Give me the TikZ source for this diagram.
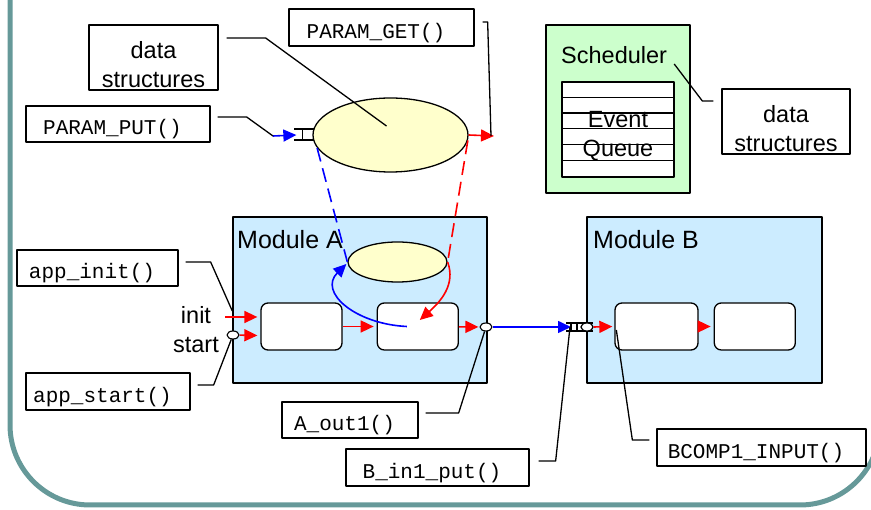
\documentclass[tikz,border=0pt]{standalone}
\usepackage{fontspec}
\setmainfont{Liberation Sans}
\setmonofont{Liberation Mono}
\usetikzlibrary{arrows.meta,positioning,calc,shapes.geometric}
\definecolor{modblue}{HTML}{CCECFF}
\definecolor{blobyellow}{HTML}{FFFFCC}
\definecolor{schedgreen}{HTML}{CCFFCC}
\definecolor{frameteal}{HTML}{669999}

\begin{document}
\begin{tikzpicture}[x=1pt, y=-1pt, line join=round,
  >={Triangle[length=13pt,width=12pt]},
  sans/.style={font=\fontsize{23.5}{29}\selectfont},
  callbox/.style={draw, line width=1.3pt, fill=white, inner sep=0pt, font=\ttfamily\fontsize{21}{24}\selectfont, text height=22pt, text depth=0pt, execute at end node=\hspace*{11pt}},
  notebox/.style={draw, line width=1.3pt, fill=white, inner sep=0pt, align=center, sans},
  modbox/.style={draw, line width=1.4pt, fill=modblue, inner sep=0pt},
  compbox/.style={draw, line width=1.3pt, fill=white, rounded corners=7pt, minimum width=81pt, minimum height=47pt, inner sep=0pt},
  blob/.style={ellipse, draw, line width=1.3pt, fill=blobyellow, inner sep=0pt},
  port/.style={ellipse, draw, line width=1.1pt, fill=white, minimum width=12pt, minimum height=8pt, inner sep=0pt},
  leader/.style={draw, line width=1.3pt},
  flowred/.style={draw=red, line width=1.6pt, ->, red},
  flowblue/.style={draw=blue, line width=1.6pt, ->, blue},
  gapline/.style={dash pattern=on 14pt off 7pt}]
  \useasboundingbox (0,0) rectangle (871,510);
  \draw[frameteal, line width=5pt, rounded corners=80pt] (10,-20) -- (10,505) -- (880,505) -- (880,-20);

  \node[modbox, minimum width=254pt, minimum height=166pt] (modA) at (360,300) {};
  \node[modbox, minimum width=235pt, minimum height=166pt] (modB) at (704.5,300) {};
  \node[sans, anchor=base west, inner sep=0pt, font=\fontsize{25}{29}\selectfont] (modAlbl) at (237,249) {Module A};
  \node[sans, anchor=base west, inner sep=0pt, font=\fontsize{25}{29}\selectfont] (modBlbl) at (593,249) {Module B};

  \node[compbox] (a1) at (301.5,326.5) {};
  \node[compbox, right=34pt of a1] (a2) {};
  \node[compbox, minimum width=83pt] (b1) at (656.5,326.5) {};
  \node[compbox, right=15pt of b1] (b2) {};

  \node[draw, line width=1.4pt, fill=schedgreen, minimum width=144pt, minimum height=168pt] (sched) at (618,109) {};
  \node[sans, anchor=base west, inner sep=0pt] (schedlbl) at (561,64) {Scheduler};
  \node[draw, line width=1.3pt, fill=white, minimum width=112pt, minimum height=95pt, inner sep=0pt, align=center, sans] (queue) at (618,129.5) {\rule{0pt}{30pt}Event\\Queue};
  \foreach \k in {1,...,5}
    \draw[line width=1.3pt] ($(queue.north west)+(0,\k*15.83)$) -- ++(112,0);

  \node[blob, minimum width=155pt, minimum height=74pt] (bigell) at (390.5,135) {};
  \node[blob, minimum width=99pt, minimum height=40pt] (smallell) at (397.5,262) {};

  \node[port] (astart) at (233,335) {};
  \node[port] (aout) at (486,327) {};
  \node[port] (bin) at (587,327) {};
  \coordinate (ainit) at (225,317);
  \coordinate (putin) at (273,136);
  \coordinate (getout) at (494,136);

  \node[sans, align=center, inner sep=0pt] (initlbl) at (196,330) {init\\start};

  \draw[flowred] (ainit) -- ([shift={(-3,-9.5)}]a1.west);
  \draw[flowred] (astart) -- ([shift={(-3,9)}]a1.west);
  \draw[flowred, shorten >=3pt] (a1) -- (a2);
  \draw[flowred, shorten >=1pt] (a2) -- (aout);
  \draw[flowblue] (aout.east) -- ([xshift=-16pt]bin.center);
  \draw[line width=1.3pt] ([shift={(6,-4)}]bin.center) -- ++(-27,0) ([shift={(6,4)}]bin.center) -- ++(-27,0)
    ([shift={(-16,-4)}]bin.center) -- ++(0,8) ([shift={(-10,-4)}]bin.center) -- ++(0,8);
  \node[port] at (bin) {};
  \draw[flowred, shorten >=2pt] (bin.east) -- (b1.west);
  \draw[flowred, shorten >=3pt] (b1) -- (b2);

  \draw[flowblue] (putin) -- ([xshift=-16pt]bigell.west);
  \draw[line width=1.3pt] ([shift={(2,-6)}]bigell.west) -- ++(-20,0) ([shift={(2,5)}]bigell.west) -- ++(-20,0)
    ([shift={(-10,-6)}]bigell.west) -- ++(0,11);
  \draw[flowred] (bigell.east) -- (getout);
  \draw[blue, line width=1.6pt, gapline] (bigell.190) -- (smallell.west);
  \draw[red, line width=1.6pt, gapline] (bigell.356) -- (smallell.east);
  \draw[flowred] (smallell.east) .. controls (456,285) and (440,302) .. ([shift={(2,-6.5)}]a2.center);
  \draw[flowblue] ([xshift=-11pt]a2.center) .. controls (355,324) and (318,292) .. ([shift={(-1,2)}]smallell.west);

  \node[notebox, minimum width=129pt, minimum height=65pt] (dsl) at (153.5,57.5) {\rule{0pt}{31pt}data\\structures};
  \node[notebox, minimum width=128pt, minimum height=65pt] (dsr) at (786,121.5) {\rule{0pt}{31pt}data\\structures};
  \node[callbox, minimum width=184pt, minimum height=36pt] (pput) at (118,124) {PARAM\_PUT()};
  \node[callbox, minimum width=185pt, minimum height=37pt] (pget) at (381.5,27.5) {PARAM\_GET()};
  \node[callbox, minimum width=161pt, minimum height=36pt] (appinit) at (97.5,268) {app\_init()};
  \node[callbox, minimum width=164pt, minimum height=37pt] (appstart) at (108,391.5) {app\_start()};
  \node[callbox, minimum width=136pt, minimum height=36pt] (aout1box) at (350,420) {A\_out1()};
  \node[callbox, minimum width=183pt, minimum height=37pt] (bin1box) at (437.5,467.5) {B\_in1\_put()};
  \node[callbox, minimum width=209pt, minimum height=37pt] (bcomp) at (761.5,447.5) {BCOMP1\_INPUT()};

  \draw[leader] ($(dsl.east)+(8,-19.5)$) -- ++(39,0) -- ([shift={(-4,-9)}]bigell.center);
  \draw[leader] ($(pput.east)+(7,-7)$) -- ++(29,0) -- (putin);
  \draw[leader] ($(pget.east)+(8,-5.5)$) -- ++(5,0) -- ([xshift=-3pt]getout);
  \draw[leader] ($(appinit.east)+(7,-6)$) -- ++(25,0) -- ([yshift=-11pt]modA.west);
  \draw[leader] ($(appstart.east)+(7,-6.5)$) -- ++(16,0) -- (astart);
  \draw[leader] ($(aout1box.east)+(7,-7)$) -- ++(33,0) -- (aout);
  \draw[leader] ($(bin1box.east)+(9,-6.5)$) -- ++(17,0) -- ([xshift=-17pt]bin.center);
  \draw[leader] ($(bcomp.west)+(-7,-7.5)$) -- ++(-17,0) -- ([shift={(2,3.5)}]b1.west);
  \draw[leader] ($(dsr.west)+(-8,-20.5)$) -- ++(-11,0) -- ([xshift=7pt]schedlbl.base east);
\end{tikzpicture}
\end{document}
